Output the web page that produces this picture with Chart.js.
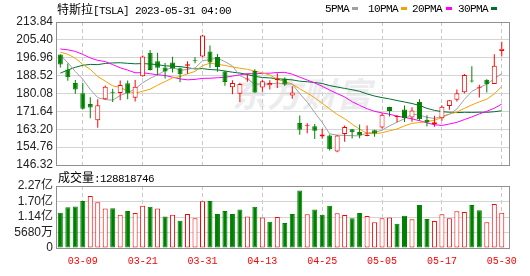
<!DOCTYPE html>
<html>
<head>
<meta charset="utf-8">
<script src="https://cdn.jsdelivr.net/npm/chart.js@4.4.1/dist/chart.umd.min.js"></script>
<style>
html,body{margin:0;padding:0;background:#fff;overflow:hidden;}
#wrap{position:relative;width:530px;height:276px;}
#wrap canvas{position:absolute;left:0;top:0;}
.t{position:absolute;white-space:nowrap;color:#000;height:12px;line-height:12px;}
.a{font-family:'Liberation Mono','DejaVu Sans Mono',monospace;font-size:11px;letter-spacing:-0.6px;}
.c{font-family:'Noto Sans CJK SC',sans-serif;font-size:12px;}
.sw{position:absolute;width:6px;height:3px;}
#wm{position:absolute;left:232px;top:76px;font-family:'Noto Sans CJK SC',sans-serif;font-weight:bold;font-style:italic;font-size:34px;line-height:34px;color:#ececee;letter-spacing:1px;white-space:nowrap;}
</style>
</head>
<body>
<div id="wrap">
<div id="wm">东方财富</div>
<canvas id="pc" width="530" height="176" style="width:530px;height:176px"></canvas>
<canvas id="vc" width="530" height="276" style="width:530px;height:276px"></canvas>
<div class="t" style="left:57px;top:3px"><span class="c">特斯拉</span><span class="a">[TSLA] 2023-05-31 04:00</span></div>
<div class="t a" style="left:325px;top:3px">5PMA</div><div class="sw" style="left:352px;top:7px;background:#a0a0a0"></div>
<div class="t a" style="left:368px;top:3px">10PMA</div><div class="sw" style="left:401px;top:7px;background:#f5a200"></div>
<div class="t a" style="left:412px;top:3px">20PMA</div><div class="sw" style="left:446px;top:7px;background:#ff00ff"></div>
<div class="t a" style="left:458px;top:3px">30PMA</div><div class="sw" style="left:491px;top:7px;background:#00702e"></div>
<div class="t" style="left:58px;top:171px"><span class="c">成交量</span><span class="a">:128818746</span></div>
</div>
<script>
const dates = ['03-06','03-07','03-08','03-09','03-10','03-13','03-14','03-15','03-16','03-17','03-20','03-21','03-22','03-23','03-24','03-27','03-28','03-29','03-30','03-31','04-03','04-04','04-05','04-06','04-10','04-11','04-12','04-13','04-14','04-17','04-18','04-19','04-20','04-21','04-24','04-25','04-26','04-27','04-28','05-01','05-02','05-03','05-04','05-05','05-08','05-09','05-10','05-11','05-12','05-15','05-16','05-17','05-18','05-19','05-22','05-23','05-24','05-25','05-26','05-30'];
const open = [198.54,191.38,185.04,180.25,175.13,167.46,177.31,180.80,180.37,184.90,178.08,188.28,199.30,195.26,192.30,194.66,192.00,193.13,195.58,197.53,199.91,197.32,190.52,183.08,179.94,186.69,190.74,182.96,183.95,186.32,187.15,179.10,166.17,164.80,164.65,159.82,160.29,152.64,160.90,163.17,161.88,160.01,162.71,163.97,173.72,168.95,172.55,168.70,176.07,167.66,165.65,168.41,174.22,177.17,180.70,186.20,182.56,186.54,184.62,200.10];
const high = [198.60,194.20,186.50,185.18,178.29,177.35,183.80,182.34,186.22,186.22,186.44,198.00,200.66,199.31,194.50,197.39,192.35,195.29,197.33,207.79,202.69,198.74,190.68,186.39,185.10,189.19,191.58,186.50,186.28,189.69,187.69,183.50,169.70,166.00,165.65,163.47,160.67,160.48,165.00,163.28,165.49,165.00,162.95,170.79,173.80,169.82,174.43,173.57,177.38,169.76,169.52,174.50,177.06,181.95,189.32,192.96,184.22,186.78,198.60,204.48];
const low = [192.30,186.10,180.00,172.51,168.44,163.91,177.14,176.03,176.93,177.33,176.35,188.04,190.95,188.65,187.15,189.94,185.43,189.44,194.42,197.20,192.20,190.32,183.76,179.74,176.11,185.65,180.31,180.94,182.01,182.69,183.58,177.65,160.56,161.32,158.61,158.75,153.14,152.37,157.32,158.83,158.93,159.91,159.65,163.51,169.19,166.56,166.68,166.79,167.23,164.55,164.35,167.19,172.45,176.31,180.11,185.26,178.22,180.58,184.53,197.53];
const close = [193.81,187.71,182.00,172.92,173.44,174.48,183.26,180.45,184.13,180.13,183.25,197.58,191.15,192.22,190.41,191.81,189.19,193.88,195.28,207.46,194.77,192.58,185.52,185.06,184.51,186.79,180.54,185.90,185.00,187.04,184.31,180.59,162.99,165.08,162.55,160.67,153.75,160.19,164.31,161.83,160.31,160.61,161.20,170.06,171.79,169.15,168.54,172.08,167.98,166.35,166.52,173.86,176.89,180.14,188.87,185.77,182.90,184.47,193.17,201.16];
const prevClose = 197.79;
// volume in millions of shares
const volume = [129,149,152,172,191,168,145,146,122,136,128,155,151,145,115,122,100,125,108.6,171,172,125,136,125,141,115,151,112,96,114,92,125,210.6,124,141.5,121.7,154.6,127,120.6,108.6,128,117,94,108.6,111.8,88.8,118.4,105.3,158,106.3,98.7,124,108.6,134.9,131.6,158,138,94.4,161,128.818746];
const ma5 = [198.20,194.60,190.44,186.85,181.98,178.11,177.22,176.91,179.15,180.49,182.24,185.11,187.25,188.87,190.92,192.63,190.96,191.50,192.11,195.52,196.12,196.79,195.12,193.08,188.49,186.89,184.48,184.56,184.55,185.05,184.56,184.57,179.99,176.00,171.10,166.38,161.01,160.45,160.29,160.15,160.08,161.45,161.65,162.80,164.79,166.56,168.15,170.32,169.91,168.82,168.29,169.36,170.32,172.75,177.26,181.11,182.91,184.43,187.04,189.49];
const ma10 = [199.58,198.61,196.73,193.81,191.47,188.15,185.91,183.68,183.00,181.23,180.18,181.16,182.08,184.01,185.71,187.44,188.03,189.38,190.49,193.22,194.38,193.88,193.31,192.60,192.01,191.50,190.64,189.84,188.81,186.77,185.73,184.53,182.27,180.28,178.08,175.47,172.79,170.22,168.15,165.63,163.23,161.23,161.05,161.55,162.47,163.32,164.80,165.99,166.36,166.81,167.43,168.75,170.32,171.33,173.04,174.70,176.14,177.38,179.89,183.38];
const ma20 = [201.07,200.71,199.97,198.56,196.86,195.74,195.17,193.73,192.23,191.13,189.88,189.89,189.40,188.91,188.59,187.80,186.97,186.53,186.74,187.23,187.28,187.52,187.70,188.30,188.86,189.47,189.34,189.61,189.65,190.00,190.05,189.20,187.79,186.44,185.04,183.49,181.71,180.03,178.48,176.20,174.48,172.88,171.66,170.91,170.28,169.39,168.79,168.10,167.25,166.22,165.33,164.99,165.69,166.44,167.76,169.01,170.47,171.68,173.12,175.09];
const ma30 = [189.70,191.17,192.44,193.39,193.83,193.71,194.27,194.51,194.60,194.33,194.10,194.20,194.01,193.71,193.14,192.97,192.79,192.28,191.65,191.83,191.38,191.22,190.71,190.14,189.73,189.03,188.19,187.63,187.43,187.08,186.76,186.52,185.89,185.63,185.26,184.80,183.82,183.14,182.48,181.87,181.11,179.88,178.88,178.14,177.52,176.76,176.08,175.35,174.44,173.07,172.13,171.50,171.22,171.05,171.20,171.16,171.24,171.19,171.47,171.94];
const priceTicks = [146.32,154.76,163.20,171.64,180.08,188.52,196.96,205.40,213.84];
const volTicks = [0,56.8,113.6,170.4,227.2];
const volTickLabels = ['0','5680万','1.14亿','1.70亿','2.27亿'];
const labelIdx = [3,11,19,27,35,43,51,59];

const RED = '#ff0000', GREEN = '#008000';
const idx = dates.map((d, i) => i);
const up = idx.map(i => close[i] >= open[i]);
const volUp = idx.map(i => close[i] >= (i ? close[i - 1] : prevClose));

const frame = {
  id: 'frame',
  beforeDatasetsDraw(c) {
    const a = c.chartArea, x = c.ctx;
    x.save();
    x.strokeStyle = '#909090';
    x.lineWidth = 1;
    x.strokeRect(a.left + 0.5, a.top + 0.5, a.right - a.left - 1, a.bottom - a.top);
    x.restore();
  }
};

function xScale(show) {
  return {
    type: 'linear', min: -0.58, max: 60.1, offset: false,
    afterBuildTicks: s => { s.ticks = labelIdx.map(v => ({ value: v })); },
    ticks: {
      display: show, autoSkip: false, maxRotation: 0, color: RED, padding: 7,
      font: { family: "'Liberation Mono', monospace", size: 10 },
      callback: v => dates[v]
    },
    grid: { color: '#c8c8c8', lineWidth: 1, drawTicks: false, offset: false },
    border: { display: false, dash: [4, 3] }
  };
}
const tickFont = { family: "'Liberation Sans', 'Noto Sans CJK SC', sans-serif", size: 12 };
const common = {
  responsive: false, animation: false, events: [],
  plugins: { legend: { display: false }, tooltip: { enabled: false } }
};
const lineDs = (arr, col, ord) => ({
  type: 'line', data: arr.map((y, i) => ({ x: i, y })), borderColor: col,
  borderWidth: 1, pointRadius: 0, tension: 0, order: ord
});

new Chart(document.getElementById('pc'), {
  type: 'bar',
  data: {
    datasets: [
      lineDs(ma30, '#00702e', 6),
      lineDs(ma20, '#ff00ff', 5),
      lineDs(ma10, '#f5a200', 4),
      lineDs(ma5, '#a0a0a0', 3),
      {
        type: 'bar', data: idx.map(i => ({ x: i, y: [low[i], high[i]] })),
        backgroundColor: idx.map(i => up[i] ? RED : GREEN), borderWidth: 0,
        maxBarThickness: 1, barPercentage: 1, categoryPercentage: 1, grouped: false,
        inflateAmount: 0, order: 2
      },
      {
        type: 'bar', data: idx.map(i => ({ x: i, y: [Math.min(open[i], close[i]), Math.max(open[i], close[i])] })),
        backgroundColor: idx.map(i => up[i] ? '#ffffff' : GREEN),
        borderColor: idx.map(i => up[i] ? RED : GREEN), borderWidth: 1, borderSkipped: false,
        maxBarThickness: 5, barPercentage: 1, categoryPercentage: 1, grouped: false,
        minBarLength: 1, inflateAmount: 0, order: 1
      }
    ]
  },
  options: Object.assign({}, common, {
    layout: { padding: { top: 22, right: 20, bottom: 11, left: 0 } },
    scales: {
      x: xScale(false),
      y: {
        min: 146.32, max: 213.84,
        afterBuildTicks: s => { s.ticks = priceTicks.map(v => ({ value: v })); },
        afterFit: s => { s.width = 56; },
        ticks: { autoSkip: false, callback: v => v.toFixed(2), font: tickFont, color: '#222', padding: 3 },
        grid: { color: '#d4d4d4', drawTicks: false, lineWidth: 1 },
        border: { display: false }
      }
    }
  }),
  plugins: [frame]
});

new Chart(document.getElementById('vc'), {
  type: 'bar',
  data: {
    datasets: [{
      data: idx.map(i => ({ x: i, y: volume[i] })),
      backgroundColor: idx.map(i => volUp[i] ? '#ffffff' : GREEN),
      borderColor: idx.map(i => volUp[i] ? RED : GREEN), borderWidth: 1, borderSkipped: false,
      maxBarThickness: 5, barPercentage: 1, categoryPercentage: 1, grouped: false, inflateAmount: 0
    }]
  },
  options: Object.assign({}, common, {
    layout: { padding: { top: 186, right: 20, bottom: 2, left: 0 } },
    scales: {
      x: xScale(true),
      y: {
        min: 0, max: 227.2,
        afterBuildTicks: s => { s.ticks = volTicks.map(v => ({ value: v })); },
        afterFit: s => { s.width = 56; },
        ticks: { autoSkip: false, callback: (v, i) => volTickLabels[i], font: tickFont, color: '#222', padding: 3 },
        grid: { color: '#d4d4d4', drawTicks: false, lineWidth: 1 },
        border: { display: false }
      }
    }
  }),
  plugins: [frame]
});
</script>
</body>
</html>
